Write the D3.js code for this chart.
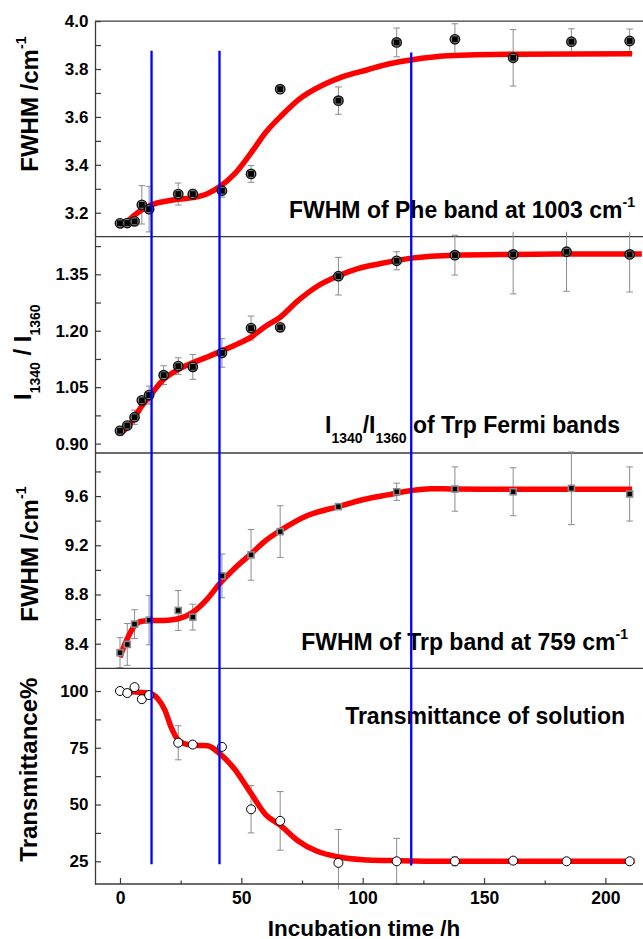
<!DOCTYPE html>
<html><head><meta charset="utf-8">
<script src="https://cdn.jsdelivr.net/npm/d3@7/dist/d3.min.js"></script>
<style>
body{margin:0;background:#fff}
text{font-family:"Liberation Sans",Arial,Helvetica,sans-serif;font-weight:bold;fill:#000}
</style>
</head><body>
<svg id="chart" width="643" height="939"></svg>
<script>
// ---------------- DATA ----------------
// Panel 1: FWHM of Phe band at 1003 cm-1
const pheTime = [0,3,6,9,12,24,30,42,54,66,90,114,138,162,186,210];
const pheFwhm = [3.156,3.157,3.164,3.233,3.215,3.278,3.278,3.292,3.362,3.716,3.668,3.911,3.924,3.847,3.914,3.917];
const pheErr  = [0.005,0.005,0.006,0.08,0.095,0.046,0.02,0.027,0.035,0.008,0.057,0.06,0.065,0.118,0.054,0.05];
const pheFitT = [0,3,6,9,12,15,20,24,30,36,41,47,54,60,67,74,84,91,102,111,120,135,162,211];
const pheFitV = [3.142,3.163,3.19,3.212,3.228,3.24,3.25,3.256,3.263,3.279,3.308,3.36,3.45,3.535,3.61,3.675,3.735,3.765,3.797,3.822,3.838,3.855,3.862,3.864];
const pheTicks = [3.2,3.4,3.6,3.8,4.0];
const pheTickLabels = ["3.2","3.4","3.6","3.8","4.0"];
const pheMinor = [3.3,3.5,3.7,3.9];

// Panel 2: I1340/I1360 of Trp Fermi bands
const fermiTime  = [0,3,6,9,12,18,24,30,42,54,66,90,114,138,162,184,210];
const fermiRatio = [0.934,0.948,0.970,1.015,1.029,1.082,1.106,1.104,1.141,1.207,1.209,1.345,1.386,1.401,1.403,1.410,1.403];
const fermiErr   = [0.012,0.01,0.019,0.008,0.024,0.025,0.022,0.033,0.038,0.032,0.008,0.05,0.024,0.053,0.105,0.105,0.1];
const fermiFitT  = [0,3,6,9,12,18,24,30,36,41,47,54,60,66,73,81,90,98,107,120,138,162,185,215];
const fermiFitV  = [0.926,0.943,0.970,1.0,1.024,1.071,1.097,1.115,1.13,1.144,1.161,1.183,1.212,1.236,1.278,1.317,1.346,1.365,1.378,1.393,1.401,1.403,1.404,1.404];
const fermiTicks = [0.90,1.05,1.20,1.35];
const fermiTickLabels = ["0.90","1.05","1.20","1.35"];
const fermiMinor = [0.975,1.125,1.275,1.425];

// Panel 3: FWHM of Trp band at 759 cm-1
const trpTime = [0,3,6,12,24,30,42,54,66,90,114,138,162,186,210];
const trpFwhm = [8.327,8.394,8.559,8.591,8.670,8.616,8.951,9.122,9.311,9.514,9.635,9.657,9.635,9.663,9.617];
const trpErr  = [0.122,0.17,0.117,0.2,0.162,0.105,0.178,0.206,0.21,0.02,0.07,0.18,0.195,0.295,0.22];
const trpFitT = [0,1.5,3,6,9,13,18,24,30,36,41,47,54,60,66,77,90,100,111,120,128,138,170,211];
const trpFitV = [8.29,8.372,8.44,8.548,8.583,8.589,8.589,8.603,8.656,8.765,8.887,9.008,9.13,9.238,9.319,9.44,9.514,9.57,9.612,9.645,9.66,9.657,9.655,9.655];
const trpTicks = [8.4,8.8,9.2,9.6];
const trpTickLabels = ["8.4","8.8","9.2","9.6"];
const trpMinor = [8.6,9.0,9.4,9.8];

// Panel 4: Transmittance of solution
const transTime = [0,3,6,9,12,24,30,42,54,66,90,114,138,162,184,210];
const transPct  = [100.0,99.1,101.7,96.4,98.2,77.2,76.4,75.4,47.9,42.8,24.3,25.0,25.0,25.3,25.0,25.0];
const transErr  = [0.5,0.5,0.5,0.5,1,7.5,1,1,10.4,12.9,14.7,10.1,2,0.5,0.5,1];
const transFitT = [0,4,12,15.5,18.5,21,24,28,33,36,38,41,47,54,60,66,73,81,90,100,111,130,212];
const transFitV = [99.8,99.7,99.0,96.7,91.6,84.2,78.4,76.4,76.0,75.9,75.0,72.5,65.9,54.9,45.6,40.9,34.3,29.5,26.9,25.7,25.3,25.0,25.0];
const transTicks = [25,50,75,100];
const transTickLabels = ["25","50","75","100"];
const transMinor = [37.5,62.5,87.5];

// X axis
const xTicks = [0,50,100,150,200];
const xTickLabels = ["0","50","100","150","200"];
const xMinor = [25,75,125,175];

// Vertical guide lines (time, top value on panel 1, bottom value on panel 4)
const guideTime = [13,41,120];
const guideTop = [3.876,3.876,3.869];
const guideBottom = [23.7,23.7,23.2];

// ---------------- CHART ----------------
const svg = d3.select("#chart");
svg.append("rect").attr("width",643).attr("height",939).attr("fill","#fff");

const L = 95, R = 643;
const x = d3.scaleLinear().domain([-10.3, 215.5]).range([L, R]);

const panels = [
  {t:pheTime, v:pheFwhm, e:pheErr, ft:pheFitT, fv:pheFitV, dom:[3.1,4.0], rng:[236.7,21.1],
   ticks:pheTicks, labels:pheTickLabels, minor:pheMinor, marker:"cs"},
  {t:fermiTime, v:fermiRatio, e:fermiErr, ft:fermiFitT, fv:fermiFitV, dom:[0.875,1.45], rng:[453,236.7],
   ticks:fermiTicks, labels:fermiTickLabels, minor:fermiMinor, marker:"cs"},
  {t:trpTime, v:trpFwhm, e:trpErr, ft:trpFitT, fv:trpFitV, dom:[8.2,9.95], rng:[668.3,453],
   ticks:trpTicks, labels:trpTickLabels, minor:trpMinor, marker:"sq"},
  {t:transTime, v:transPct, e:transErr, ft:transFitT, fv:transFitV, dom:[15,110], rng:[884,668.3],
   ticks:transTicks, labels:transTickLabels, minor:transMinor, marker:"oc"}
];

const defs = svg.append("defs");
const frameColor = "#3a3a3a";

panels.forEach((p, i) => {
  const y = d3.scaleLinear().domain(p.dom).range(p.rng);
  p.y = y;
  const top = p.rng[1], bot = p.rng[0];
  defs.append("clipPath").attr("id","clip"+i).append("rect")
    .attr("x", L).attr("y", top-5).attr("width", R-L).attr("height", bot-top+10);

  // axis (inward ticks)
  const ax = svg.append("g").attr("transform",`translate(${L},0)`)
    .call(d3.axisLeft(y).tickValues(p.ticks).tickSizeInner(-6).tickSizeOuter(0).tickPadding(6.5)
      .tickFormat((d,k)=>p.labels[k]));
  ax.attr("font-family",null);
  ax.select(".domain").attr("stroke",frameColor).attr("stroke-width",1.3);
  ax.selectAll(".tick line").attr("stroke",frameColor).attr("stroke-width",1.2);
  ax.selectAll(".tick text").attr("font-size",17).attr("fill","#000");
  const axm = svg.append("g").attr("transform",`translate(${L},0)`)
    .call(d3.axisLeft(y).tickValues(p.minor).tickSizeInner(-6).tickSizeOuter(0).tickFormat(""));
  axm.select(".domain").remove();
  axm.selectAll(".tick line").attr("stroke",frameColor).attr("stroke-width",1.2);

  // top separator line
  svg.append("line").attr("x1",L).attr("x2",R).attr("y1",top).attr("y2",top)
    .attr("stroke",frameColor).attr("stroke-width",1.3);

  const g = svg.append("g");
  // error bars
  const eb = g.append("g").attr("clip-path",`url(#clip${i})`)
    .attr("stroke","#8c8c8c").attr("stroke-width",1).attr("fill","none");
  p.t.forEach((tt,k)=>{
    const cx = x(tt), y1 = y(p.v[k]+p.e[k]), y2 = y(p.v[k]-p.e[k]);
    eb.append("line").attr("x1",cx).attr("x2",cx).attr("y1",y1).attr("y2",y2);
    eb.append("line").attr("x1",cx-3.3).attr("x2",cx+3.3).attr("y1",y1).attr("y2",y1);
    eb.append("line").attr("x1",cx-3.3).attr("x2",cx+3.3).attr("y1",y2).attr("y2",y2);
  });
  // fit curve
  const fit = p.ft.map((tt,k)=>[tt,p.fv[k]]);
  g.append("path").datum(fit)
    .attr("d", d3.line().x(d=>x(d[0])).y(d=>y(d[1])).curve(d3.curveMonotoneX))
    .attr("fill","none").attr("stroke","#ff0000").attr("stroke-width",5.5);
  // markers
  p.t.forEach((tt,k)=>{
    const cx = x(tt), cy = y(p.v[k]);
    if (p.marker === "cs") {
      g.append("circle").attr("cx",cx).attr("cy",cy).attr("r",4.7)
        .attr("fill","#8a8a8a").attr("stroke","#111").attr("stroke-width",1.4);
      g.append("rect").attr("x",cx-2.9).attr("y",cy-2.9).attr("width",5.8).attr("height",5.8).attr("fill","#000");
    } else if (p.marker === "sq") {
      g.append("rect").attr("x",cx-3).attr("y",cy-3).attr("width",6).attr("height",6)
        .attr("fill","#000").attr("stroke","#8a8a8a").attr("stroke-width",1.6);
    } else {
      g.append("circle").attr("cx",cx).attr("cy",cy).attr("r",4.5)
        .attr("fill","#fff").attr("stroke","#000").attr("stroke-width",1);
    }
  });
});

// bottom x axis
const yBottom = panels[3].rng[0];
const xa = svg.append("g").attr("transform",`translate(0,${yBottom})`)
  .call(d3.axisBottom(x).tickValues(xTicks).tickSizeInner(-6).tickSizeOuter(0).tickPadding(8)
    .tickFormat((d,k)=>xTickLabels[k]));
xa.attr("font-family",null);
xa.select(".domain").remove();
xa.selectAll(".tick line").attr("stroke",frameColor).attr("stroke-width",1.2);
xa.selectAll(".tick text").attr("font-size",17.5).attr("fill","#000");
const xam = svg.append("g").attr("transform",`translate(0,${yBottom})`)
  .call(d3.axisBottom(x).tickValues(xMinor).tickSizeInner(-3.5).tickSizeOuter(0).tickFormat(""));
xam.select(".domain").remove();
xam.selectAll(".tick line").attr("stroke",frameColor).attr("stroke-width",1.2);
svg.append("line").attr("x1",L).attr("x2",R).attr("y1",yBottom).attr("y2",yBottom)
  .attr("stroke",frameColor).attr("stroke-width",1.3);

// annotations inside panels
function annot(xe, yb, parts, size) {
  const t = svg.append("text").attr("x",xe).attr("y",yb).attr("text-anchor","end").attr("font-size",size);
  parts.forEach(pt => {
    const s = t.append("tspan").text(pt.s);
    if (pt.dy) s.attr("dy",pt.dy);
    if (pt.fs) s.attr("font-size",pt.fs);
  });
  return t;
}
annot(635, 218, [{s:"FWHM of Phe band at 1003 cm"},{s:"-1",dy:-11,fs:14}], 23);
annot(620, 433, [{s:"I"},{s:"1340",dy:10,fs:14},{s:"/I",dy:-10},{s:"1360",dy:10,fs:14},{s:" of Trp Fermi bands",dy:-10}], 23);
annot(628, 650, [{s:"FWHM of Trp band at 759 cm"},{s:"-1",dy:-11,fs:14}], 23);
annot(625, 724, [{s:"Transmittance of solution"}], 23);

// y axis titles (rotated)
function ytitle(xb, yb, parts) {
  const t = svg.append("text").attr("transform",`translate(${xb},${yb}) rotate(-90)`)
    .attr("text-anchor","start").attr("font-size",24);
  parts.forEach(pt => {
    const s = t.append("tspan").text(pt.s);
    if (pt.dy) s.attr("dy",pt.dy);
    if (pt.fs) s.attr("font-size",pt.fs);
  });
}
ytitle(38, 171.7, [{s:"FWHM /cm"},{s:"-1",dy:-12,fs:14}]);
ytitle(31, 400, [{s:"I"},{s:"1340",dy:9,fs:14},{s:" / I",dy:-9},{s:"1360",dy:9,fs:14}]);
ytitle(38, 621.7, [{s:"FWHM /cm"},{s:"-1",dy:-12,fs:14}]);
ytitle(37, 861.7, [{s:"Transmittance%"}]);

// x axis title
svg.append("text").attr("x",364).attr("y",935.5).attr("text-anchor","middle")
  .attr("font-size",22.5).text("Incubation time /h");

// vertical guide lines (on top)
const yTop = panels[0].y, yBot = panels[3].y;
guideTime.forEach((tt,k)=>{
  svg.append("line").attr("x1",x(tt)).attr("x2",x(tt))
    .attr("y1",yTop(guideTop[k])).attr("y2",yBot(guideBottom[k]))
    .attr("stroke","#0000ff").attr("stroke-width",2.3);
});
</script>
</body></html>
